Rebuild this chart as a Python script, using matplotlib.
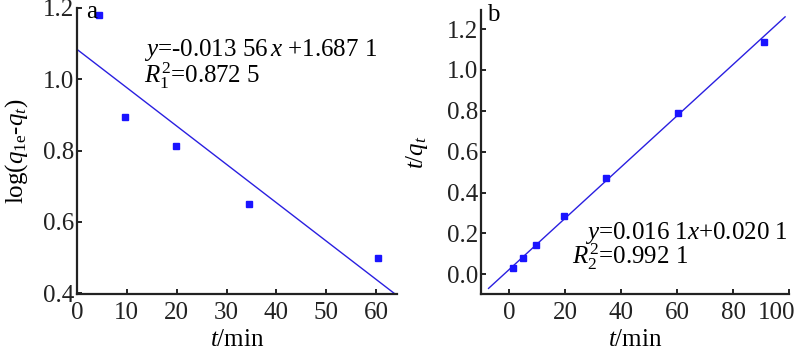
import matplotlib
matplotlib.use("Agg")
import matplotlib.pyplot as plt
import matplotlib.transforms as mtransforms
import numpy as np

plt.rcParams['font.family'] = ['Liberation Serif', 'DejaVu Serif']
plt.rcParams['mathtext.fontset'] = 'custom'
plt.rcParams['mathtext.rm'] = 'Liberation Serif'
plt.rcParams['mathtext.it'] = 'Liberation Serif:italic'
plt.rcParams['mathtext.bf'] = 'Liberation Serif:bold'

# Panel a: pseudo-first-order
t_a = [4.5, 9.7, 19.8, 34.5, 60.4]
y_a = [1.181, 0.895, 0.812, 0.651, 0.499]
fit_a_slope = -0.01075
fit_a_icpt = 1.084
fit_a_range = [0, 64.1]
eq_a = r'$y$=-0.013 56$\,x$ +1.687 1'
r2_a = r'$R_1^2$=0.872 5'

# Panel b: pseudo-second-order
t_b = [1.5, 4.9, 9.5, 19.6, 34.7, 60.2, 91.1]
y_b = [0.032, 0.081, 0.143, 0.285, 0.473, 0.791, 1.138]
fit_b_slope = 0.01254
fit_b_icpt = 0.023
fit_b_range = [-7.3, 98.6]
eq_b = r'$y$=0.016 1$x$+0.020 1'
r2_b = r'$R_2^2$=0.992 1'

mcol = '#1a14ff'
lcol = '#2a1fe0'
fs = 18

fig = plt.figure(figsize=(8.0, 3.53), dpi=100)
axa = fig.add_axes([77/800, 1-294/353, (397-77)/800, (294-8)/353])
axb = fig.add_axes([481/800, 1-294/353, (789-481)/800, (294-10)/353])

for ax in (axa, axb):
    ax.spines['top'].set_visible(False)
    ax.spines['right'].set_visible(False)
    for s in ('left', 'bottom'):
        ax.spines[s].set_linewidth(1.6)
        ax.spines[s].set_color('#222222')
    ax.tick_params(direction='in', length=3.5, width=1.4, labelsize=fs,
                   colors='#222222', labelcolor='#222222')
    ax.tick_params(axis='y', pad=2)
    ax.tick_params(axis='x', pad=6)

# panel a
xa = np.array(fit_a_range)
axa.plot(xa, fit_a_icpt + fit_a_slope * xa, color=lcol, lw=1.0, zorder=2)
axa.plot(t_a, y_a, 's', color=mcol, ms=5, zorder=3, clip_on=False)
axa.set_xlim(0, 64.2)
axa.set_ylim(0.398, 1.2)
axa.set_xticks([0, 10, 20, 30, 40, 50, 60])
axa.set_yticks([0.4, 0.6, 0.8, 1.0, 1.2])
axa.set_yticklabels(['0.4', '0.6', '0.8', '1.0', '1.2'])
axa.set_xlabel(r'$t$/min', fontsize=fs, labelpad=3.5)
axa.set_ylabel(r'log($q_{\rm 1e}$-$q_t$)', fontsize=fs, labelpad=9)
axa.text(13.4, 1.082, eq_a, fontsize=fs, va='center', ha='left')
axa.text(13.4, 1.012, r2_a, fontsize=fs, va='center', ha='left')
axa.text(1.8, 1.19, 'a', fontsize=fs, va='center', ha='left')

# panel b
xb = np.array(fit_b_range)
axb.plot(xb, fit_b_icpt + fit_b_slope * xb, color=lcol, lw=1.0, zorder=2, clip_on=False)
axb.plot(t_b, y_b, 's', color=mcol, ms=5, zorder=3, clip_on=False)
axb.set_xlim(-10, 100)
axb.set_ylim(-0.096, 1.293)
axb.set_xticks([0, 20, 40, 60, 80, 100])
axb.set_yticks([0.0, 0.2, 0.4, 0.6, 0.8, 1.0, 1.2])
axb.set_yticklabels(['0.0', '0.2', '0.4', '0.6', '0.8', '1.0', '1.2'])
axb.set_xlabel(r'$t$/min', fontsize=fs, labelpad=3.5)
axb.set_ylabel(r'$t$/$q_t$', fontsize=fs, labelpad=12)
axb.text(27, 0.202, eq_b, fontsize=fs, va='center', ha='left')
axb.text(22.5, 0.086, r2_b, fontsize=fs, va='center', ha='left')
axb.text(-7.8, 1.27, 'b', fontsize=fs, va='center', ha='left')

# keep the last x tick label inside the figure
fig.canvas.draw()
lab = axb.get_xticklabels()[-1]
lab.set_transform(lab.get_transform() + mtransforms.ScaledTranslation(-12/100, 0, fig.dpi_scale_trans))

fig.savefig('out.png', dpi=100)
